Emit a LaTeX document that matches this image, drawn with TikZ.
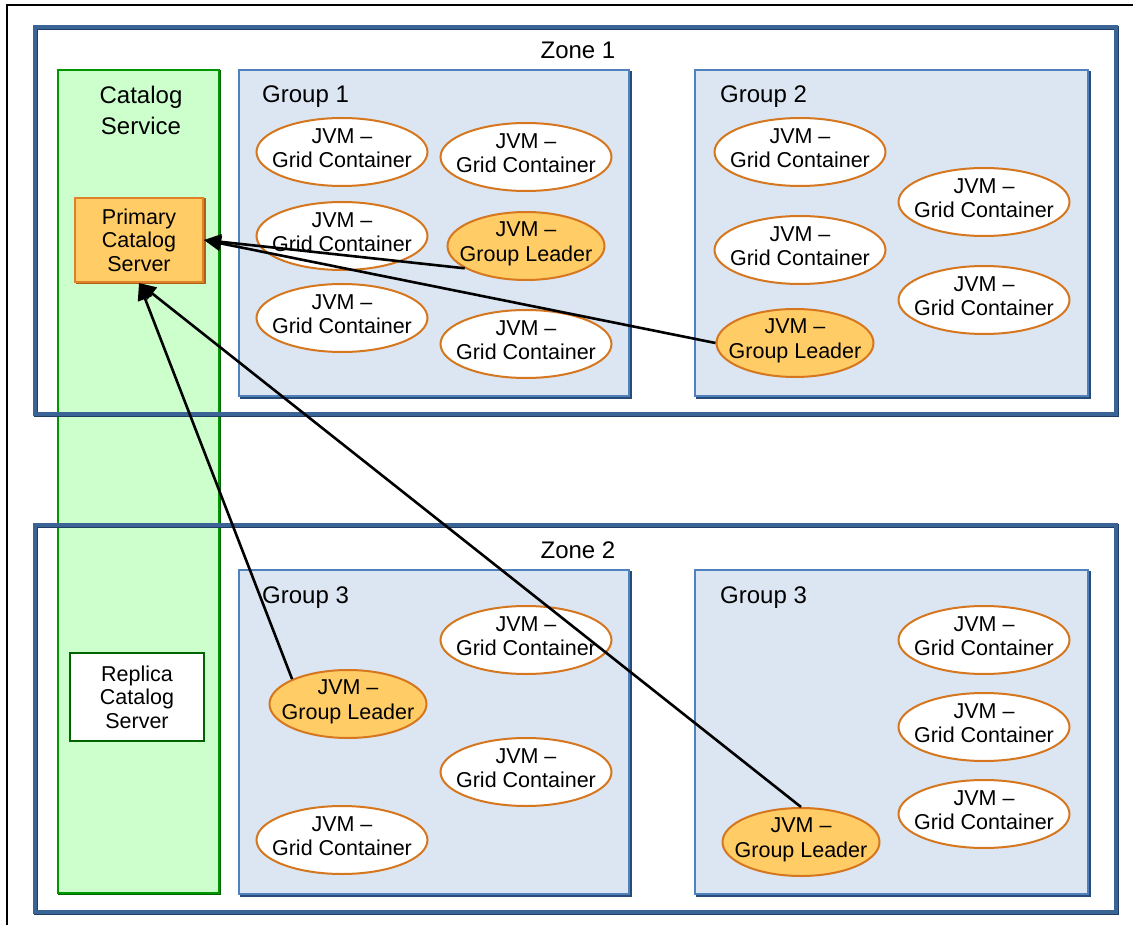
\documentclass[tikz,border=0pt]{standalone}
\usepackage{fontspec}
\setmainfont{Liberation Sans}
\usetikzlibrary{shapes.geometric,arrows.meta}
\definecolor{zoneblue}{RGB}{58,99,150}
\definecolor{zonedark}{RGB}{32,62,100}
\definecolor{groupfill}{RGB}{219,230,242}
\definecolor{groupborder}{RGB}{79,129,189}
\definecolor{groupshadow}{RGB}{40,75,120}
\definecolor{greenfill}{RGB}{204,255,204}
\definecolor{greenborder}{RGB}{0,150,0}
\definecolor{greendark}{RGB}{0,100,0}
\definecolor{ellborder}{RGB}{214,118,30}
\definecolor{leaderfill}{RGB}{255,204,102}
\definecolor{srvborder}{RGB}{222,130,40}
\definecolor{srvdark}{RGB}{176,95,20}
\newcommand{\jvmfont}{\fontsize{21.5}{24.5}\selectfont}
\newcommand{\lblfont}{\fontsize{24}{31}\selectfont}
\newcommand{\srvfont}{\fontsize{21.5}{23.5}\selectfont}
\begin{document}
\begin{tikzpicture}[x=1pt,y=-1pt,
  zonebox/.style={rectangle, draw=zoneblue, line width=4.5pt, inner sep=0pt,
    preaction={draw=zonedark, line width=4.5pt, transform canvas={xshift=1.2pt,yshift=-1.2pt}}},
  groupbox/.style={rectangle, fill=groupfill, draw=groupborder, line width=1.8pt, inner sep=0pt,
    preaction={fill=groupshadow, draw=groupshadow, transform canvas={xshift=2pt,yshift=-2pt}}},
  greencol/.style={rectangle, fill=greenfill, draw=greenborder, line width=1.8pt, inner sep=0pt,
    preaction={draw=greendark, line width=2pt, transform canvas={xshift=1.2pt,yshift=-1.2pt}}},
  server/.style={rectangle, draw=srvborder, fill=leaderfill, line width=2pt, font=\srvfont,
    align=center, inner sep=0pt,
    preaction={draw=srvdark, fill=srvdark, transform canvas={xshift=1.5pt,yshift=-1.5pt}}},
  replica/.style={rectangle, draw=greendark, fill=white, line width=2.4pt, font=\srvfont,
    align=center, inner sep=0pt},
  jvmtxt/.style={font=\jvmfont, align=center, inner sep=0pt},
  gc/.style={ellipse, draw=ellborder, line width=2pt, fill=white, minimum width=171pt,
    minimum height=68pt, inner sep=0pt,
    label={[jvmtxt, yshift=4pt]center:JVM –\\Grid Container}},
  gl/.style={ellipse, draw=ellborder, line width=2pt, fill=leaderfill, minimum width=157pt,
    minimum height=68pt, inner sep=0pt,
    label={[jvmtxt, yshift=2pt]center:JVM –\\Group Leader}},
  title/.style={font=\lblfont, inner sep=0pt, align=center},
  arr/.style={draw=black, line width=2.6pt, -{Triangle[length=17pt,width=15pt]}}
]
\useasboundingbox (0,0) rectangle (1135,925);
% outer frame
\draw[line width=1.2pt] (7,925) -- (7,5) -- (1133,5);

% catalog service column
\node[greencol, minimum width=161pt, minimum height=823pt] (cs) at (138.5,481.5) {};

% zones
\node[zonebox, minimum width=1081pt, minimum height=387pt] (zone1) at (575.5,220.5) {};
\node[zonebox, minimum width=1081pt, minimum height=387pt] (zone2) at (575.5,718.5) {};

% groups
\node[groupbox, minimum width=390pt, minimum height=326pt] (grp1) at (434,233) {};
\node[groupbox, minimum width=393pt, minimum height=326pt] (grp2) at (891.5,233) {};
\node[groupbox, minimum width=390pt, minimum height=324pt] (grp3a) at (434,732) {};
\node[groupbox, minimum width=393pt, minimum height=324pt] (grp3b) at (891.5,732) {};

% titles
\node[title, anchor=base] (z1t) at (578,59) {Zone 1};
\node[title, anchor=base] (z2t) at (578,558) {Zone 2};
\node[title] (cst) at (141,110) {Catalog\\Service};
\node[title, anchor=base west] (g1t) at (262,103) {Group 1};
\node[title, anchor=base west] (g2t) at (720,103) {Group 2};
\node[title, anchor=base west] (g3at) at (262,603) {Group 3};
\node[title, anchor=base west] (g3bt) at (720,603) {Group 3};

% servers
\node[server, minimum width=128pt, minimum height=84pt] (pcs) at (139,240) {Primary\\Catalog\\Server};
\node[replica, minimum width=134pt, minimum height=88pt] (rcs) at (137,697) {Replica\\Catalog\\Server};

% group 1
\node[gc] (g1a) at (342,152) {};
\node[gc] (g1b) at (526,157) {};
\node[gc] (g1c) at (342,236) {};
\node[gl] (gl1) at (526,246) {};
\node[gc] (g1e) at (342,318) {};
\node[gc] (g1f) at (526,344) {};

% group 2
\node[gc] (g2a) at (800,152) {};
\node[gc] (g2b) at (984,202) {};
\node[gc] (g2c) at (800,250) {};
\node[gc] (g2d) at (984,300) {};
\node[gl] (gl2) at (795,343) {};

% group 3 (left)
\node[gc] (g3a) at (526,640) {};
\node[gl] (gl3) at (348,704) {};
\node[gc] (g3c) at (526,772) {};
\node[gc] (g3d) at (342,840) {};

% group 3 (right)
\node[gc] (g4a) at (984,640) {};
\node[gc] (g4b) at (984,727) {};
\node[gc] (g4c) at (984,814) {};
\node[gl] (gl4) at (801,842) {};

% connectors
\draw[arr] (gl1.200) -- (pcs.east);
\draw[arr] (gl2.west) -- (pcs.east);
\draw[arr] (gl3.156) -- (pcs.south);
\draw[arr] (gl4.north) -- (pcs.south);
\end{tikzpicture}
\end{document}
